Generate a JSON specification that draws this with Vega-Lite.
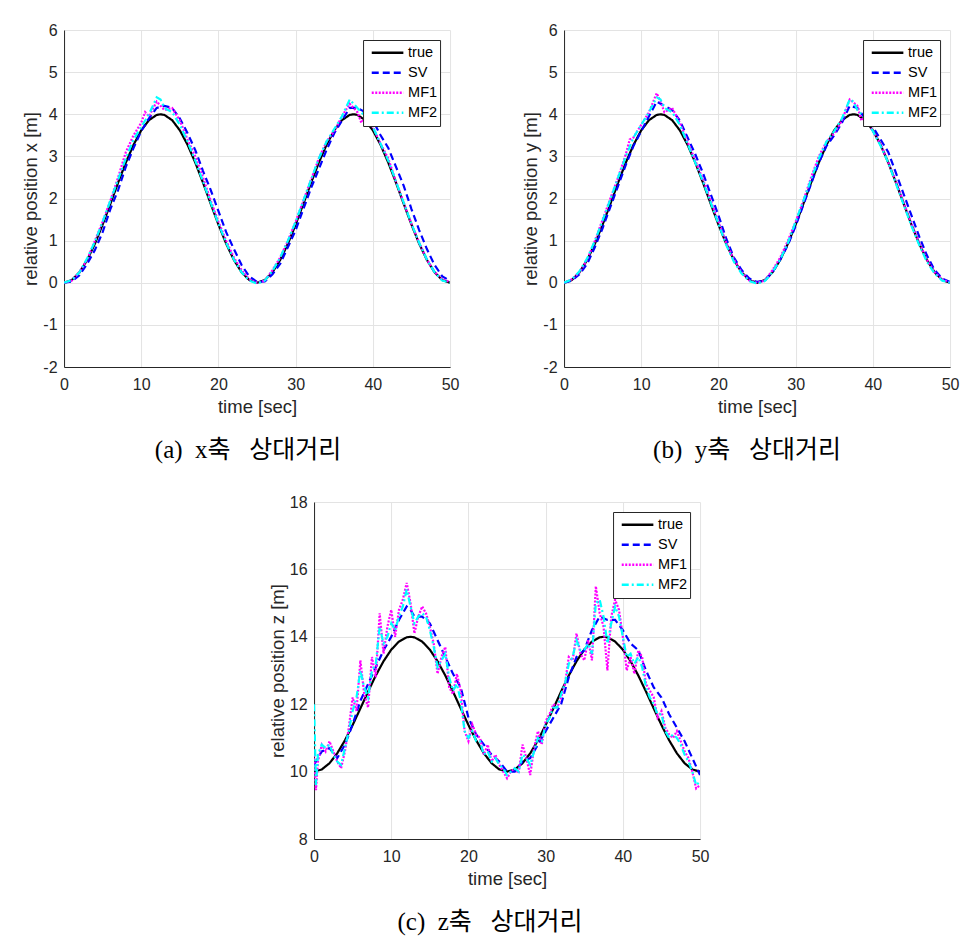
{
"$schema": "https://vega.github.io/schema/vega-lite/v6.json",
"background": "white",
"padding": {"left": 21, "top": 22, "right": 5, "bottom": 5},
"config": {
  "view": {"stroke": null},
  "axis": {"domainColor": "#262626", "domainWidth": 1, "gridColor": "#e3e3e3", "gridWidth": 1, "ticks": false, "labelFlush": false,
           "labelFont": "Liberation Sans", "labelFontSize": 16, "labelColor": "#262626", "labelExpr": "'' + datum.value",
           "titleFont": "Liberation Sans", "titleFontSize": 18.5, "titleFontWeight": "normal", "titleColor": "#262626"},
  "axisX": {"labelPadding": 9, "titlePadding": 5},
  "axisY": {"labelPadding": 7, "titlePadding": 2},
  "legend": {"orient": "top-right", "offset": 10, "strokeColor": "#262626", "fillColor": "white", "padding": 3,
             "labelFont": "Liberation Sans", "labelFontSize": 14.5, "labelColor": "#000000", "symbolType": "stroke",
             "symbolSize": 1000, "symbolStrokeWidth": 2.5, "rowPadding": 0, "clipHeight": 19.5, "symbolOffset": 4, "labelOffset": 3, "cornerRadius": 0},
  "title": {"orient": "bottom", "font": "Liberation Serif, Noto Sans CJK KR", "fontSize": 25, "fontWeight": "normal", "color": "#000000", "offset": 22, "anchor": "middle"}
},
"datasets": {
"xa": [
{"s":"true","t":0,"v":0},{"s":"true","t":1,"v":0.063},{"s":"true","t":2,"v":0.248},{"s":"true","t":3,"v":0.542},{"s":"true","t":4,"v":0.928},{"s":"true","t":5,"v":1.382},{"s":"true","t":6,"v":1.874},{"s":"true","t":7,"v":2.375},{"s":"true","t":8,"v":2.852},{"s":"true","t":9,"v":3.275},{"s":"true","t":10,"v":3.618},{"s":"true","t":11,"v":3.86},{"s":"true","t":12,"v":3.984},{"s":"true","t":12.5,"v":4},{"s":"true","t":13,"v":3.984},{"s":"true","t":14,"v":3.86},{"s":"true","t":15,"v":3.618},{"s":"true","t":16,"v":3.275},{"s":"true","t":17,"v":2.852},{"s":"true","t":18,"v":2.375},{"s":"true","t":19,"v":1.874},{"s":"true","t":20,"v":1.382},{"s":"true","t":21,"v":0.928},{"s":"true","t":22,"v":0.542},{"s":"true","t":23,"v":0.248},{"s":"true","t":24,"v":0.063},{"s":"true","t":25,"v":0},
{"s":"true","t":26,"v":0.063},{"s":"true","t":27,"v":0.248},{"s":"true","t":28,"v":0.542},{"s":"true","t":29,"v":0.928},{"s":"true","t":30,"v":1.382},{"s":"true","t":31,"v":1.874},{"s":"true","t":32,"v":2.375},{"s":"true","t":33,"v":2.852},{"s":"true","t":34,"v":3.275},{"s":"true","t":35,"v":3.618},{"s":"true","t":36,"v":3.86},{"s":"true","t":37,"v":3.984},{"s":"true","t":37.5,"v":4},{"s":"true","t":38,"v":3.984},{"s":"true","t":39,"v":3.86},{"s":"true","t":40,"v":3.618},{"s":"true","t":41,"v":3.275},{"s":"true","t":42,"v":2.852},{"s":"true","t":43,"v":2.375},{"s":"true","t":44,"v":1.874},{"s":"true","t":45,"v":1.382},{"s":"true","t":46,"v":0.928},{"s":"true","t":47,"v":0.542},{"s":"true","t":48,"v":0.248},{"s":"true","t":49,"v":0.063},{"s":"true","t":50,"v":0},
{"s":"SV","t":0,"v":0},{"s":"SV","t":1,"v":0.03},{"s":"SV","t":2,"v":0.18},{"s":"SV","t":3,"v":0.45},{"s":"SV","t":4,"v":0.78},{"s":"SV","t":5,"v":1.2},{"s":"SV","t":6,"v":1.75},{"s":"SV","t":7,"v":2.2},{"s":"SV","t":8,"v":2.75},{"s":"SV","t":9,"v":3.2},{"s":"SV","t":10,"v":3.6},{"s":"SV","t":11,"v":3.9},{"s":"SV","t":12,"v":4.15},{"s":"SV","t":13,"v":4.2},{"s":"SV","t":14,"v":4.15},{"s":"SV","t":15,"v":3.9},{"s":"SV","t":16,"v":3.55},{"s":"SV","t":17,"v":3.15},{"s":"SV","t":18,"v":2.65},{"s":"SV","t":19,"v":2.2},{"s":"SV","t":20,"v":1.7},{"s":"SV","t":21,"v":1.2},{"s":"SV","t":22,"v":0.8},{"s":"SV","t":23,"v":0.42},{"s":"SV","t":24,"v":0.15},{"s":"SV","t":25,"v":0.02},
{"s":"SV","t":26,"v":0.03},{"s":"SV","t":27,"v":0.2},{"s":"SV","t":28,"v":0.45},{"s":"SV","t":29,"v":0.85},{"s":"SV","t":30,"v":1.25},{"s":"SV","t":31,"v":1.75},{"s":"SV","t":32,"v":2.25},{"s":"SV","t":33,"v":2.7},{"s":"SV","t":34,"v":3.15},{"s":"SV","t":35,"v":3.55},{"s":"SV","t":36,"v":3.85},{"s":"SV","t":37,"v":4.15},{"s":"SV","t":38,"v":4.15},{"s":"SV","t":39,"v":4.05},{"s":"SV","t":40,"v":3.85},{"s":"SV","t":41,"v":3.5},{"s":"SV","t":42,"v":3.2},{"s":"SV","t":43,"v":2.75},{"s":"SV","t":44,"v":2.3},{"s":"SV","t":45,"v":1.75},{"s":"SV","t":46,"v":1.25},{"s":"SV","t":47,"v":0.8},{"s":"SV","t":48,"v":0.42},{"s":"SV","t":49,"v":0.15},{"s":"SV","t":50,"v":0.05},
{"s":"MF1","t":0,"v":0},{"s":"MF1","t":1,"v":0.05},{"s":"MF1","t":2,"v":0.25},{"s":"MF1","t":3,"v":0.55},{"s":"MF1","t":4,"v":1.0},{"s":"MF1","t":5,"v":1.45},{"s":"MF1","t":6,"v":1.95},{"s":"MF1","t":7,"v":2.5},{"s":"MF1","t":8,"v":3.1},{"s":"MF1","t":9,"v":3.5},{"s":"MF1","t":10,"v":3.8},{"s":"MF1","t":10.5,"v":4.05},{"s":"MF1","t":11,"v":3.95},{"s":"MF1","t":12,"v":4.3},{"s":"MF1","t":12.5,"v":4.2},{"s":"MF1","t":13,"v":4.1},{"s":"MF1","t":14,"v":4.15},{"s":"MF1","t":15,"v":3.85},{"s":"MF1","t":16,"v":3.4},{"s":"MF1","t":17,"v":3.0},{"s":"MF1","t":18,"v":2.5},{"s":"MF1","t":19,"v":1.95},{"s":"MF1","t":20,"v":1.45},{"s":"MF1","t":21,"v":1.0},{"s":"MF1","t":22,"v":0.6},{"s":"MF1","t":23,"v":0.3},{"s":"MF1","t":24,"v":0.08},{"s":"MF1","t":25,"v":0},
{"s":"MF1","t":26,"v":0.05},{"s":"MF1","t":27,"v":0.3},{"s":"MF1","t":28,"v":0.6},{"s":"MF1","t":29,"v":1.0},{"s":"MF1","t":30,"v":1.45},{"s":"MF1","t":31,"v":1.95},{"s":"MF1","t":32,"v":2.45},{"s":"MF1","t":33,"v":2.95},{"s":"MF1","t":34,"v":3.35},{"s":"MF1","t":35,"v":3.6},{"s":"MF1","t":36,"v":3.95},{"s":"MF1","t":37,"v":4.25},{"s":"MF1","t":38,"v":4.05},{"s":"MF1","t":38.5,"v":3.8},{"s":"MF1","t":39,"v":3.9},{"s":"MF1","t":40,"v":3.7},{"s":"MF1","t":41,"v":3.3},{"s":"MF1","t":42,"v":2.95},{"s":"MF1","t":43,"v":2.4},{"s":"MF1","t":44,"v":1.9},{"s":"MF1","t":45,"v":1.4},{"s":"MF1","t":46,"v":0.95},{"s":"MF1","t":47,"v":0.55},{"s":"MF1","t":48,"v":0.25},{"s":"MF1","t":49,"v":0.08},{"s":"MF1","t":50,"v":0.02},
{"s":"MF2","t":0,"v":0},{"s":"MF2","t":1,"v":0.06},{"s":"MF2","t":2,"v":0.25},{"s":"MF2","t":3,"v":0.58},{"s":"MF2","t":4,"v":0.98},{"s":"MF2","t":5,"v":1.45},{"s":"MF2","t":6,"v":1.95},{"s":"MF2","t":7,"v":2.45},{"s":"MF2","t":8,"v":2.95},{"s":"MF2","t":9,"v":3.4},{"s":"MF2","t":10,"v":3.7},{"s":"MF2","t":11,"v":4.0},{"s":"MF2","t":12,"v":4.4},{"s":"MF2","t":12.5,"v":4.35},{"s":"MF2","t":13,"v":4.15},{"s":"MF2","t":14,"v":4.05},{"s":"MF2","t":15,"v":3.75},{"s":"MF2","t":16,"v":3.35},{"s":"MF2","t":17,"v":2.9},{"s":"MF2","t":18,"v":2.4},{"s":"MF2","t":19,"v":1.9},{"s":"MF2","t":20,"v":1.4},{"s":"MF2","t":21,"v":0.95},{"s":"MF2","t":22,"v":0.55},{"s":"MF2","t":23,"v":0.25},{"s":"MF2","t":24,"v":0.05},{"s":"MF2","t":25,"v":-0.02},
{"s":"MF2","t":26,"v":0.05},{"s":"MF2","t":27,"v":0.28},{"s":"MF2","t":28,"v":0.6},{"s":"MF2","t":29,"v":1.0},{"s":"MF2","t":30,"v":1.45},{"s":"MF2","t":31,"v":1.95},{"s":"MF2","t":32,"v":2.45},{"s":"MF2","t":33,"v":2.95},{"s":"MF2","t":34,"v":3.35},{"s":"MF2","t":35,"v":3.65},{"s":"MF2","t":36,"v":3.95},{"s":"MF2","t":37,"v":4.35},{"s":"MF2","t":38,"v":4.15},{"s":"MF2","t":39,"v":3.95},{"s":"MF2","t":40,"v":3.7},{"s":"MF2","t":41,"v":3.3},{"s":"MF2","t":42,"v":2.9},{"s":"MF2","t":43,"v":2.4},{"s":"MF2","t":44,"v":1.9},{"s":"MF2","t":45,"v":1.4},{"s":"MF2","t":46,"v":0.95},{"s":"MF2","t":47,"v":0.55},{"s":"MF2","t":48,"v":0.25},{"s":"MF2","t":49,"v":0.05},{"s":"MF2","t":50,"v":0}
],
"yb": [
{"s":"true","t":0,"v":0},{"s":"true","t":1,"v":0.063},{"s":"true","t":2,"v":0.248},{"s":"true","t":3,"v":0.542},{"s":"true","t":4,"v":0.928},{"s":"true","t":5,"v":1.382},{"s":"true","t":6,"v":1.874},{"s":"true","t":7,"v":2.375},{"s":"true","t":8,"v":2.852},{"s":"true","t":9,"v":3.275},{"s":"true","t":10,"v":3.618},{"s":"true","t":11,"v":3.86},{"s":"true","t":12,"v":3.984},{"s":"true","t":12.5,"v":4},{"s":"true","t":13,"v":3.984},{"s":"true","t":14,"v":3.86},{"s":"true","t":15,"v":3.618},{"s":"true","t":16,"v":3.275},{"s":"true","t":17,"v":2.852},{"s":"true","t":18,"v":2.375},{"s":"true","t":19,"v":1.874},{"s":"true","t":20,"v":1.382},{"s":"true","t":21,"v":0.928},{"s":"true","t":22,"v":0.542},{"s":"true","t":23,"v":0.248},{"s":"true","t":24,"v":0.063},{"s":"true","t":25,"v":0},
{"s":"true","t":26,"v":0.063},{"s":"true","t":27,"v":0.248},{"s":"true","t":28,"v":0.542},{"s":"true","t":29,"v":0.928},{"s":"true","t":30,"v":1.382},{"s":"true","t":31,"v":1.874},{"s":"true","t":32,"v":2.375},{"s":"true","t":33,"v":2.852},{"s":"true","t":34,"v":3.275},{"s":"true","t":35,"v":3.618},{"s":"true","t":36,"v":3.86},{"s":"true","t":37,"v":3.984},{"s":"true","t":37.5,"v":4},{"s":"true","t":38,"v":3.984},{"s":"true","t":39,"v":3.86},{"s":"true","t":40,"v":3.618},{"s":"true","t":41,"v":3.275},{"s":"true","t":42,"v":2.852},{"s":"true","t":43,"v":2.375},{"s":"true","t":44,"v":1.874},{"s":"true","t":45,"v":1.382},{"s":"true","t":46,"v":0.928},{"s":"true","t":47,"v":0.542},{"s":"true","t":48,"v":0.248},{"s":"true","t":49,"v":0.063},{"s":"true","t":50,"v":0},
{"s":"SV","t":0,"v":0},{"s":"SV","t":1,"v":0.05},{"s":"SV","t":2,"v":0.2},{"s":"SV","t":3,"v":0.45},{"s":"SV","t":4,"v":0.85},{"s":"SV","t":5,"v":1.3},{"s":"SV","t":6,"v":1.8},{"s":"SV","t":7,"v":2.3},{"s":"SV","t":8,"v":2.8},{"s":"SV","t":9,"v":3.25},{"s":"SV","t":10,"v":3.6},{"s":"SV","t":11,"v":3.95},{"s":"SV","t":12,"v":4.3},{"s":"SV","t":13,"v":4.2},{"s":"SV","t":14,"v":4.1},{"s":"SV","t":15,"v":3.85},{"s":"SV","t":16,"v":3.45},{"s":"SV","t":17,"v":3.05},{"s":"SV","t":18,"v":2.6},{"s":"SV","t":19,"v":2.1},{"s":"SV","t":20,"v":1.6},{"s":"SV","t":21,"v":1.05},{"s":"SV","t":22,"v":0.6},{"s":"SV","t":23,"v":0.3},{"s":"SV","t":24,"v":0.1},{"s":"SV","t":25,"v":0.02},
{"s":"SV","t":26,"v":0.05},{"s":"SV","t":27,"v":0.25},{"s":"SV","t":28,"v":0.55},{"s":"SV","t":29,"v":0.9},{"s":"SV","t":30,"v":1.35},{"s":"SV","t":31,"v":1.85},{"s":"SV","t":32,"v":2.35},{"s":"SV","t":33,"v":2.85},{"s":"SV","t":34,"v":3.25},{"s":"SV","t":35,"v":3.5},{"s":"SV","t":36,"v":3.8},{"s":"SV","t":37,"v":4.2},{"s":"SV","t":38,"v":4.15},{"s":"SV","t":39,"v":3.9},{"s":"SV","t":40,"v":3.7},{"s":"SV","t":41,"v":3.4},{"s":"SV","t":42,"v":3.1},{"s":"SV","t":43,"v":2.6},{"s":"SV","t":44,"v":2.1},{"s":"SV","t":45,"v":1.6},{"s":"SV","t":46,"v":1.1},{"s":"SV","t":47,"v":0.65},{"s":"SV","t":48,"v":0.3},{"s":"SV","t":49,"v":0.1},{"s":"SV","t":50,"v":0.02},
{"s":"MF1","t":0,"v":0},{"s":"MF1","t":1,"v":0.08},{"s":"MF1","t":2,"v":0.25},{"s":"MF1","t":3,"v":0.55},{"s":"MF1","t":4,"v":1.0},{"s":"MF1","t":5,"v":1.5},{"s":"MF1","t":6,"v":2.0},{"s":"MF1","t":7,"v":2.5},{"s":"MF1","t":8,"v":3.05},{"s":"MF1","t":8.5,"v":3.4},{"s":"MF1","t":9,"v":3.45},{"s":"MF1","t":10,"v":3.75},{"s":"MF1","t":11,"v":4.05},{"s":"MF1","t":12,"v":4.5},{"s":"MF1","t":12.5,"v":4.3},{"s":"MF1","t":13,"v":4.05},{"s":"MF1","t":14,"v":4.15},{"s":"MF1","t":15,"v":3.8},{"s":"MF1","t":16,"v":3.35},{"s":"MF1","t":17,"v":2.9},{"s":"MF1","t":18,"v":2.45},{"s":"MF1","t":19,"v":1.95},{"s":"MF1","t":20,"v":1.45},{"s":"MF1","t":21,"v":0.95},{"s":"MF1","t":22,"v":0.55},{"s":"MF1","t":23,"v":0.25},{"s":"MF1","t":24,"v":0.05},{"s":"MF1","t":25,"v":0},
{"s":"MF1","t":26,"v":0.05},{"s":"MF1","t":27,"v":0.3},{"s":"MF1","t":28,"v":0.6},{"s":"MF1","t":29,"v":1.0},{"s":"MF1","t":30,"v":1.45},{"s":"MF1","t":31,"v":1.95},{"s":"MF1","t":32,"v":2.5},{"s":"MF1","t":33,"v":3.0},{"s":"MF1","t":34,"v":3.35},{"s":"MF1","t":35,"v":3.55},{"s":"MF1","t":36,"v":3.85},{"s":"MF1","t":37,"v":4.35},{"s":"MF1","t":38,"v":4.2},{"s":"MF1","t":38.5,"v":3.85},{"s":"MF1","t":39,"v":3.95},{"s":"MF1","t":40,"v":3.6},{"s":"MF1","t":41,"v":3.3},{"s":"MF1","t":42,"v":2.85},{"s":"MF1","t":43,"v":2.4},{"s":"MF1","t":44,"v":1.9},{"s":"MF1","t":45,"v":1.4},{"s":"MF1","t":46,"v":0.95},{"s":"MF1","t":47,"v":0.55},{"s":"MF1","t":48,"v":0.25},{"s":"MF1","t":49,"v":0.08},{"s":"MF1","t":50,"v":0},
{"s":"MF2","t":0,"v":0},{"s":"MF2","t":1,"v":0.08},{"s":"MF2","t":2,"v":0.27},{"s":"MF2","t":3,"v":0.58},{"s":"MF2","t":4,"v":1.0},{"s":"MF2","t":5,"v":1.48},{"s":"MF2","t":6,"v":1.98},{"s":"MF2","t":7,"v":2.5},{"s":"MF2","t":8,"v":3.0},{"s":"MF2","t":9,"v":3.45},{"s":"MF2","t":10,"v":3.75},{"s":"MF2","t":11,"v":4.05},{"s":"MF2","t":12,"v":4.4},{"s":"MF2","t":12.5,"v":4.35},{"s":"MF2","t":13,"v":4.15},{"s":"MF2","t":14,"v":4.05},{"s":"MF2","t":15,"v":3.75},{"s":"MF2","t":16,"v":3.3},{"s":"MF2","t":17,"v":2.85},{"s":"MF2","t":18,"v":2.4},{"s":"MF2","t":19,"v":1.9},{"s":"MF2","t":20,"v":1.4},{"s":"MF2","t":21,"v":0.9},{"s":"MF2","t":22,"v":0.5},{"s":"MF2","t":23,"v":0.22},{"s":"MF2","t":24,"v":0.04},{"s":"MF2","t":25,"v":-0.02},
{"s":"MF2","t":26,"v":0.04},{"s":"MF2","t":27,"v":0.25},{"s":"MF2","t":28,"v":0.55},{"s":"MF2","t":29,"v":0.95},{"s":"MF2","t":30,"v":1.45},{"s":"MF2","t":31,"v":1.95},{"s":"MF2","t":32,"v":2.45},{"s":"MF2","t":33,"v":2.95},{"s":"MF2","t":34,"v":3.35},{"s":"MF2","t":35,"v":3.6},{"s":"MF2","t":36,"v":3.9},{"s":"MF2","t":37,"v":4.35},{"s":"MF2","t":37.5,"v":4.3},{"s":"MF2","t":38,"v":4.1},{"s":"MF2","t":39,"v":3.9},{"s":"MF2","t":40,"v":3.6},{"s":"MF2","t":41,"v":3.25},{"s":"MF2","t":42,"v":2.85},{"s":"MF2","t":43,"v":2.35},{"s":"MF2","t":44,"v":1.85},{"s":"MF2","t":45,"v":1.35},{"s":"MF2","t":46,"v":0.9},{"s":"MF2","t":47,"v":0.5},{"s":"MF2","t":48,"v":0.22},{"s":"MF2","t":49,"v":0.05},{"s":"MF2","t":50,"v":0}
],
"zc": [
{"s":"true","t":0,"v":10},{"s":"true","t":1,"v":10.063},{"s":"true","t":2,"v":10.248},{"s":"true","t":3,"v":10.542},{"s":"true","t":4,"v":10.928},{"s":"true","t":5,"v":11.382},{"s":"true","t":6,"v":11.874},{"s":"true","t":7,"v":12.375},{"s":"true","t":8,"v":12.852},{"s":"true","t":9,"v":13.275},{"s":"true","t":10,"v":13.618},{"s":"true","t":11,"v":13.86},{"s":"true","t":12,"v":13.984},{"s":"true","t":12.5,"v":14},{"s":"true","t":13,"v":13.984},{"s":"true","t":14,"v":13.86},{"s":"true","t":15,"v":13.618},{"s":"true","t":16,"v":13.275},{"s":"true","t":17,"v":12.852},{"s":"true","t":18,"v":12.375},{"s":"true","t":19,"v":11.874},{"s":"true","t":20,"v":11.382},{"s":"true","t":21,"v":10.928},{"s":"true","t":22,"v":10.542},{"s":"true","t":23,"v":10.248},{"s":"true","t":24,"v":10.063},{"s":"true","t":25,"v":10},
{"s":"true","t":26,"v":10.063},{"s":"true","t":27,"v":10.248},{"s":"true","t":28,"v":10.542},{"s":"true","t":29,"v":10.928},{"s":"true","t":30,"v":11.382},{"s":"true","t":31,"v":11.874},{"s":"true","t":32,"v":12.375},{"s":"true","t":33,"v":12.852},{"s":"true","t":34,"v":13.275},{"s":"true","t":35,"v":13.618},{"s":"true","t":36,"v":13.86},{"s":"true","t":37,"v":13.984},{"s":"true","t":37.5,"v":14},{"s":"true","t":38,"v":13.984},{"s":"true","t":39,"v":13.86},{"s":"true","t":40,"v":13.618},{"s":"true","t":41,"v":13.275},{"s":"true","t":42,"v":12.852},{"s":"true","t":43,"v":12.375},{"s":"true","t":44,"v":11.874},{"s":"true","t":45,"v":11.382},{"s":"true","t":46,"v":10.928},{"s":"true","t":47,"v":10.542},{"s":"true","t":48,"v":10.248},{"s":"true","t":49,"v":10.063},{"s":"true","t":50,"v":10},
{"s":"SV","t":0,"v":10.2},{"s":"SV","t":0.5,"v":10.4},{"s":"SV","t":1,"v":10.6},{"s":"SV","t":2,"v":10.7},{"s":"SV","t":3,"v":10.4},{"s":"SV","t":4,"v":10.8},{"s":"SV","t":5,"v":11.4},{"s":"SV","t":6,"v":12.1},{"s":"SV","t":7,"v":12.6},{"s":"SV","t":8,"v":13.1},{"s":"SV","t":9,"v":13.6},{"s":"SV","t":10,"v":14.0},{"s":"SV","t":11,"v":14.5},{"s":"SV","t":12,"v":14.9},{"s":"SV","t":12.5,"v":14.8},{"s":"SV","t":13,"v":14.6},{"s":"SV","t":14,"v":14.6},{"s":"SV","t":15,"v":14.4},{"s":"SV","t":16,"v":13.9},{"s":"SV","t":17,"v":13.4},{"s":"SV","t":18,"v":12.9},{"s":"SV","t":19,"v":12.5},{"s":"SV","t":20,"v":11.6},{"s":"SV","t":21,"v":11.1},{"s":"SV","t":22,"v":10.8},{"s":"SV","t":23,"v":10.5},{"s":"SV","t":24,"v":10.3},{"s":"SV","t":25,"v":10.0},
{"s":"SV","t":26,"v":10.0},{"s":"SV","t":27,"v":10.3},{"s":"SV","t":28,"v":10.4},{"s":"SV","t":29,"v":10.8},{"s":"SV","t":30,"v":11.2},{"s":"SV","t":31,"v":11.6},{"s":"SV","t":32,"v":12.0},{"s":"SV","t":33,"v":12.8},{"s":"SV","t":34,"v":13.4},{"s":"SV","t":35,"v":13.6},{"s":"SV","t":36,"v":14.2},{"s":"SV","t":37,"v":14.6},{"s":"SV","t":38,"v":14.5},{"s":"SV","t":39,"v":14.5},{"s":"SV","t":40,"v":14.2},{"s":"SV","t":41,"v":13.8},{"s":"SV","t":42,"v":13.6},{"s":"SV","t":43,"v":13.0},{"s":"SV","t":44,"v":12.5},{"s":"SV","t":45,"v":12.2},{"s":"SV","t":46,"v":11.7},{"s":"SV","t":47,"v":11.3},{"s":"SV","t":48,"v":10.9},{"s":"SV","t":49,"v":10.4},{"s":"SV","t":50,"v":9.9},
{"s":"MF1","t":0,"v":10.5},{"s":"MF1","t":0.25,"v":9.45},{"s":"MF1","t":0.5,"v":10.3},{"s":"MF1","t":1,"v":10.8},{"s":"MF1","t":1.5,"v":10.6},{"s":"MF1","t":2,"v":10.9},{"s":"MF1","t":2.5,"v":10.6},{"s":"MF1","t":3,"v":10.3},{"s":"MF1","t":3.5,"v":10.1},{"s":"MF1","t":4,"v":10.6},{"s":"MF1","t":4.5,"v":11.3},{"s":"MF1","t":5,"v":12.2},{"s":"MF1","t":5.5,"v":11.8},{"s":"MF1","t":6,"v":13.3},{"s":"MF1","t":6.5,"v":12.3},{"s":"MF1","t":7,"v":11.9},{"s":"MF1","t":7.5,"v":13.4},{"s":"MF1","t":8,"v":12.8},{"s":"MF1","t":8.5,"v":14.7},{"s":"MF1","t":9,"v":13.5},{"s":"MF1","t":9.5,"v":14.3},{"s":"MF1","t":10,"v":14.8},{"s":"MF1","t":10.5,"v":14.0},{"s":"MF1","t":11,"v":14.8},{"s":"MF1","t":11.5,"v":15.1},{"s":"MF1","t":12,"v":15.6},{"s":"MF1","t":12.5,"v":15.0},{"s":"MF1","t":13,"v":14.1},{"s":"MF1","t":13.5,"v":14.6},{"s":"MF1","t":14,"v":14.9},{"s":"MF1","t":14.5,"v":14.7},{"s":"MF1","t":15,"v":14.3},{"s":"MF1","t":15.5,"v":13.8},{"s":"MF1","t":16,"v":12.9},{"s":"MF1","t":16.5,"v":13.4},{"s":"MF1","t":17,"v":13.7},{"s":"MF1","t":17.5,"v":12.5},{"s":"MF1","t":18,"v":12.3},{"s":"MF1","t":18.5,"v":12.9},{"s":"MF1","t":19,"v":12.4},{"s":"MF1","t":19.5,"v":11.2},{"s":"MF1","t":20,"v":10.9},{"s":"MF1","t":20.5,"v":11.4},{"s":"MF1","t":21,"v":11.1},{"s":"MF1","t":21.5,"v":11.0},{"s":"MF1","t":22,"v":10.5},{"s":"MF1","t":22.5,"v":10.8},{"s":"MF1","t":23,"v":10.3},{"s":"MF1","t":23.5,"v":10.5},{"s":"MF1","t":24,"v":10.2},{"s":"MF1","t":24.5,"v":10.0},{"s":"MF1","t":25,"v":9.8},
{"s":"MF1","t":25.5,"v":10.0},{"s":"MF1","t":26,"v":10.1},{"s":"MF1","t":26.5,"v":9.95},{"s":"MF1","t":27,"v":10.8},{"s":"MF1","t":27.5,"v":10.4},{"s":"MF1","t":28,"v":9.9},{"s":"MF1","t":28.5,"v":10.7},{"s":"MF1","t":29,"v":11.2},{"s":"MF1","t":29.5,"v":10.8},{"s":"MF1","t":30,"v":11.5},{"s":"MF1","t":30.5,"v":11.7},{"s":"MF1","t":31,"v":12.0},{"s":"MF1","t":31.5,"v":11.9},{"s":"MF1","t":32,"v":12.2},{"s":"MF1","t":32.5,"v":12.6},{"s":"MF1","t":33,"v":13.4},{"s":"MF1","t":33.5,"v":13.3},{"s":"MF1","t":34,"v":14.1},{"s":"MF1","t":34.5,"v":13.5},{"s":"MF1","t":35,"v":13.3},{"s":"MF1","t":35.5,"v":13.9},{"s":"MF1","t":36,"v":13.3},{"s":"MF1","t":36.5,"v":15.5},{"s":"MF1","t":37,"v":14.7},{"s":"MF1","t":37.5,"v":14.3},{"s":"MF1","t":38,"v":13.0},{"s":"MF1","t":38.5,"v":14.6},{"s":"MF1","t":39,"v":15.1},{"s":"MF1","t":39.5,"v":14.8},{"s":"MF1","t":40,"v":14.0},{"s":"MF1","t":40.5,"v":13.0},{"s":"MF1","t":41,"v":13.4},{"s":"MF1","t":41.5,"v":12.9},{"s":"MF1","t":42,"v":13.6},{"s":"MF1","t":42.5,"v":13.4},{"s":"MF1","t":43,"v":12.6},{"s":"MF1","t":43.5,"v":12.4},{"s":"MF1","t":44,"v":12.2},{"s":"MF1","t":44.5,"v":11.6},{"s":"MF1","t":45,"v":11.8},{"s":"MF1","t":45.5,"v":11.3},{"s":"MF1","t":46,"v":11.1},{"s":"MF1","t":46.5,"v":11.0},{"s":"MF1","t":47,"v":11.2},{"s":"MF1","t":47.5,"v":10.9},{"s":"MF1","t":48,"v":10.6},{"s":"MF1","t":48.5,"v":10.4},{"s":"MF1","t":49,"v":10.0},{"s":"MF1","t":49.5,"v":9.5},{"s":"MF1","t":50,"v":9.6},
{"s":"MF2","t":0,"v":12.0},{"s":"MF2","t":0.25,"v":9.6},{"s":"MF2","t":0.5,"v":10.5},{"s":"MF2","t":1,"v":10.8},{"s":"MF2","t":1.5,"v":10.7},{"s":"MF2","t":2,"v":10.8},{"s":"MF2","t":2.5,"v":10.5},{"s":"MF2","t":3,"v":10.3},{"s":"MF2","t":3.5,"v":10.2},{"s":"MF2","t":4,"v":10.7},{"s":"MF2","t":4.5,"v":11.2},{"s":"MF2","t":5,"v":11.8},{"s":"MF2","t":5.5,"v":12.2},{"s":"MF2","t":6,"v":13.0},{"s":"MF2","t":6.5,"v":12.5},{"s":"MF2","t":7,"v":12.2},{"s":"MF2","t":7.5,"v":13.0},{"s":"MF2","t":8,"v":13.2},{"s":"MF2","t":8.5,"v":14.3},{"s":"MF2","t":9,"v":13.8},{"s":"MF2","t":9.5,"v":14.0},{"s":"MF2","t":10,"v":14.4},{"s":"MF2","t":10.5,"v":14.2},{"s":"MF2","t":11,"v":14.6},{"s":"MF2","t":11.5,"v":14.9},{"s":"MF2","t":12,"v":15.4},{"s":"MF2","t":12.5,"v":14.9},{"s":"MF2","t":13,"v":14.4},{"s":"MF2","t":13.5,"v":14.6},{"s":"MF2","t":14,"v":14.7},{"s":"MF2","t":14.5,"v":14.6},{"s":"MF2","t":15,"v":14.2},{"s":"MF2","t":15.5,"v":13.7},{"s":"MF2","t":16,"v":13.1},{"s":"MF2","t":16.5,"v":13.3},{"s":"MF2","t":17,"v":13.5},{"s":"MF2","t":17.5,"v":12.8},{"s":"MF2","t":18,"v":12.4},{"s":"MF2","t":18.5,"v":12.6},{"s":"MF2","t":19,"v":12.1},{"s":"MF2","t":19.5,"v":11.2},{"s":"MF2","t":20,"v":11.0},{"s":"MF2","t":20.5,"v":11.2},{"s":"MF2","t":21,"v":10.9},{"s":"MF2","t":21.5,"v":10.9},{"s":"MF2","t":22,"v":10.5},{"s":"MF2","t":22.5,"v":10.6},{"s":"MF2","t":23,"v":10.3},{"s":"MF2","t":23.5,"v":10.4},{"s":"MF2","t":24,"v":10.2},{"s":"MF2","t":24.5,"v":10.1},{"s":"MF2","t":25,"v":9.9},
{"s":"MF2","t":25.5,"v":10.0},{"s":"MF2","t":26,"v":10.1},{"s":"MF2","t":26.5,"v":10.0},{"s":"MF2","t":27,"v":10.5},{"s":"MF2","t":27.5,"v":10.4},{"s":"MF2","t":28,"v":10.2},{"s":"MF2","t":28.5,"v":10.6},{"s":"MF2","t":29,"v":11.0},{"s":"MF2","t":29.5,"v":10.9},{"s":"MF2","t":30,"v":11.4},{"s":"MF2","t":30.5,"v":11.6},{"s":"MF2","t":31,"v":11.9},{"s":"MF2","t":31.5,"v":11.9},{"s":"MF2","t":32,"v":12.3},{"s":"MF2","t":32.5,"v":12.6},{"s":"MF2","t":33,"v":13.2},{"s":"MF2","t":33.5,"v":13.4},{"s":"MF2","t":34,"v":13.9},{"s":"MF2","t":34.5,"v":13.6},{"s":"MF2","t":35,"v":13.6},{"s":"MF2","t":35.5,"v":13.8},{"s":"MF2","t":36,"v":13.5},{"s":"MF2","t":36.5,"v":15.0},{"s":"MF2","t":37,"v":15.1},{"s":"MF2","t":37.5,"v":14.6},{"s":"MF2","t":38,"v":13.8},{"s":"MF2","t":38.5,"v":14.4},{"s":"MF2","t":39,"v":14.9},{"s":"MF2","t":39.5,"v":14.6},{"s":"MF2","t":40,"v":14.0},{"s":"MF2","t":40.5,"v":13.4},{"s":"MF2","t":41,"v":13.5},{"s":"MF2","t":41.5,"v":13.2},{"s":"MF2","t":42,"v":13.4},{"s":"MF2","t":42.5,"v":13.1},{"s":"MF2","t":43,"v":12.5},{"s":"MF2","t":43.5,"v":12.2},{"s":"MF2","t":44,"v":12.0},{"s":"MF2","t":44.5,"v":11.7},{"s":"MF2","t":45,"v":11.7},{"s":"MF2","t":45.5,"v":11.2},{"s":"MF2","t":46,"v":11.0},{"s":"MF2","t":46.5,"v":11.1},{"s":"MF2","t":47,"v":11.0},{"s":"MF2","t":47.5,"v":10.8},{"s":"MF2","t":48,"v":10.5},{"s":"MF2","t":48.5,"v":10.3},{"s":"MF2","t":49,"v":10.0},{"s":"MF2","t":49.5,"v":9.6},{"s":"MF2","t":50,"v":9.7}
]
},
"vconcat": [
 {
  "hconcat": [
   {
    "data": {"name": "xa"},
    "width": 386, "height": 337,
    "title": {"text": "(a)\u00a0\u00a0x축\u00a0\u00a0\u00a0상대거리", "dx": -9},
    "mark": {"type": "line", "strokeWidth": 2.2, "clip": true},
    "encoding": {
     "x": {"field": "t", "type": "quantitative", "scale": {"domain": [0, 50], "nice": false}, "axis": {"values": [0,10,20,30,40,50], "title": "time [sec]"}},
     "y": {"field": "v", "type": "quantitative", "scale": {"domain": [-2, 6], "nice": false, "zero": false}, "axis": {"values": [-2,-1,0,1,2,3,4,5,6], "title": "relative position x [m]"}},
     "color": {"field": "s", "type": "nominal", "scale": {"domain": ["true","SV","MF1","MF2"], "range": ["#000000","#0000ff","#ff00ff","#00ffff"]}, "legend": {"title": null}},
     "strokeDash": {"field": "s", "type": "nominal", "scale": {"domain": ["true","SV","MF1","MF2"], "range": [[1,0],[7,4],[2,1.5],[7,3,2,3]]}, "legend": {"title": null}}
    }
   },
   {
    "data": {"name": "yb"},
    "width": 386, "height": 337,
    "title": {"text": "(b)\u00a0\u00a0y축\u00a0\u00a0\u00a0상대거리", "dx": -10},
    "mark": {"type": "line", "strokeWidth": 2.2, "clip": true},
    "encoding": {
     "x": {"field": "t", "type": "quantitative", "scale": {"domain": [0, 50], "nice": false}, "axis": {"values": [0,10,20,30,40,50], "title": "time [sec]"}},
     "y": {"field": "v", "type": "quantitative", "scale": {"domain": [-2, 6], "nice": false, "zero": false}, "axis": {"values": [-2,-1,0,1,2,3,4,5,6], "title": "relative position y [m]"}},
     "color": {"field": "s", "type": "nominal", "scale": {"domain": ["true","SV","MF1","MF2"], "range": ["#000000","#0000ff","#ff00ff","#00ffff"]}, "legend": {"title": null}},
     "strokeDash": {"field": "s", "type": "nominal", "scale": {"domain": ["true","SV","MF1","MF2"], "range": [[1,0],[7,4],[2,1.5],[7,3,2,3]]}, "legend": {"title": null}}
    }
   }
  ],
  "spacing": 62,
  "resolve": {"scale": {"color": "independent", "strokeDash": "independent"}}
 },
 {
  "data": {"name": "zc"},
  "width": 386, "height": 337,
  "title": {"text": "(c)\u00a0\u00a0z축\u00a0\u00a0\u00a0상대거리", "dx": -17},
  "mark": {"type": "line", "strokeWidth": 2.2, "clip": true},
  "encoding": {
   "x": {"field": "t", "type": "quantitative", "scale": {"domain": [0, 50], "nice": false}, "axis": {"values": [0,10,20,30,40,50], "title": "time [sec]"}},
   "y": {"field": "v", "type": "quantitative", "scale": {"domain": [8, 18], "nice": false, "zero": false}, "axis": {"values": [8,10,12,14,16,18], "title": "relative position z [m]"}},
   "color": {"field": "s", "type": "nominal", "scale": {"domain": ["true","SV","MF1","MF2"], "range": ["#000000","#0000ff","#ff00ff","#00ffff"]}, "legend": {"title": null}},
   "strokeDash": {"field": "s", "type": "nominal", "scale": {"domain": ["true","SV","MF1","MF2"], "range": [[1,0],[7,4],[2,1.5],[7,3,2,3]]}, "legend": {"title": null}}
  }
 }
],
"spacing": 31,
"center": true,
"resolve": {"scale": {"color": "independent", "strokeDash": "independent"}}
}
